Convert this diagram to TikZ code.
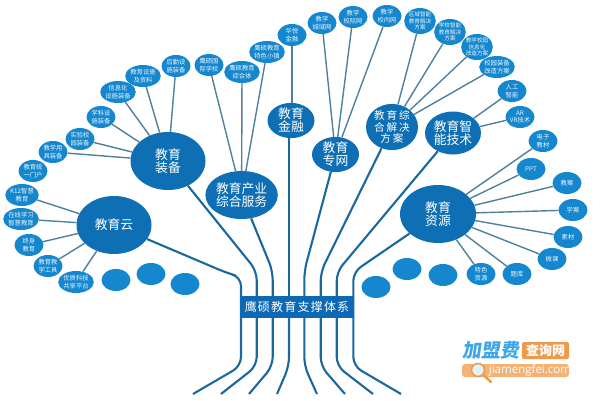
\documentclass[tikz,border=0pt]{standalone}
\usepackage{fontspec}
\setmainfont{Noto Sans CJK SC}
\newfontfamily\latinwm{Open Sans}
\usetikzlibrary{shapes.geometric}
\newcommand\tightlines{\lineskiplimit=-20pt\relax}
\definecolor{bigblue}{HTML}{0F6FB5}
\definecolor{smallblue}{HTML}{1587CF}
\definecolor{leafline}{HTML}{4F809F}
\definecolor{trunkblue}{HTML}{1A689F}
\definecolor{boxblue}{HTML}{0D69B3}
\definecolor{wmblue}{HTML}{3FA6EA}
\definecolor{wmorange}{HTML}{EE9A4D}
\definecolor{wmpale}{HTML}{F4B274}
\tikzset{
  x=1pt,y=-1pt,
  bignode/.style={ellipse,fill=bigblue,text=white,inner sep=0pt,align=center,font=\fontsize{12.8}{13}\selectfont\tightlines},
  smallnode/.style={ellipse,fill=smallblue,text=white!92!smallblue,inner sep=0pt,align=center,minimum width=29pt,minimum height=22pt,font=\fontsize{6.3}{7.7}\selectfont\tightlines},
  tinynode/.style={smallnode,font=\fontsize{5.6}{6.6}\selectfont\tightlines},
  blanknode/.style={smallnode},
  leaf/.style={draw=leafline,line width=1.4pt},
  trunk/.style={draw=trunkblue,line width=2.1pt,rounded corners=9pt},
}
\begin{document}
\begin{tikzpicture}
\useasboundingbox (0,0) rectangle (600,400);
\fill[white] (0,0) rectangle (600,400);
% small nodes: cloud
\node[smallnode] (a1) at (22,195) {K12智慧\\教育};
\node[smallnode] (a2) at (21,219) {在线学习\\智慧教育};
\node[smallnode] (a3) at (29,245) {终身\\教育};
\node[smallnode] (a4) at (48,266) {教育教\\学工具};
\node[smallnode] (a5) at (76,282) {优质科技\\共享平台};
\node[smallnode] (a0) at (33,171) {教育统\\一门户};
\node[blanknode] (n1) at (116,280) {};
\node[blanknode] (n2) at (151,274) {};
\node[blanknode] (n3) at (185,284) {};
% equipment
\node[smallnode] (b1) at (53,152) {教学用\\具装备};
\node[smallnode] (b2) at (80,139) {实验校\\园装备};
\node[smallnode] (b3) at (101,117) {学科设\\施装备};
\node[smallnode] (b4) at (118,92) {信息化\\设施装备};
\node[smallnode] (b5) at (143,76) {教育设施\\及资料};
\node[smallnode] (b6) at (176,66) {后勤设\\施装备};
% services
\node[smallnode] (c1) at (209,65) {鹰硕国\\际学校};
\node[smallnode] (c2) at (242,72) {鹰硕教育\\综合体};
\node[smallnode] (c3) at (267,52) {鹰硕教育\\特色小镇};
\node[smallnode] (d1) at (292,35) {华悦\\金融};
% network
\node[smallnode] (e1) at (322,23) {教学\\城域网};
\node[smallnode] (e2) at (353,17) {教学\\校际网};
\node[smallnode] (e3) at (387,16) {教学\\校内网};
% solutions
\node[tinynode] (f1) at (420,21) {区域智能\\教育解决\\方案};
\node[tinynode] (f2) at (450,32) {学校智能\\教育解决\\方案};
\node[tinynode] (f3) at (477,47) {教学校园\\信息化\\改造方案};
\node[smallnode] (f4) at (497,67) {校园装备\\改造方案};
% intelligent
\node[smallnode] (g1) at (512,91) {人工\\智能};
\node[smallnode] (g2) at (520,117) {AR\\VR技术};
% resources
\node[smallnode] (h1) at (543,141) {电子\\教材};
\node[smallnode] (h2) at (531,169) {PPT};
\node[smallnode] (h3) at (567,183) {教案};
\node[smallnode] (h4) at (573,210) {学案};
\node[smallnode] (h5) at (568,237) {素材};
\node[smallnode] (h6) at (552,259) {微课};
\node[smallnode] (h7) at (517,274) {题库};
\node[smallnode] (h8) at (481,274) {特色\\资源};
\node[blanknode] (n4) at (376,287) {};
\node[blanknode] (n5) at (407,269) {};
\node[blanknode] (n6) at (443,275) {};
% big nodes
\node[bignode,minimum width=75pt,minimum height=58pt] (yun) at (114,225) {教育云};
\node[bignode,minimum width=75pt,minimum height=58pt] (zhuangbei) at (168,161) {教育\\装备};
\node[bignode,minimum width=64pt,minimum height=48pt] (chanye) at (241.6,195) {教育产业\\综合服务};
\node[bignode,minimum width=47pt,minimum height=35pt] (jinrong) at (291,120.5) {教育\\金融};
\node[bignode,minimum width=47pt,minimum height=34pt] (zhuanwang) at (335.5,154.5) {教育\\专网};
\node[bignode,minimum width=52pt,minimum height=40pt,font=\fontsize{10.6}{11.4}\selectfont\addfontfeatures{LetterSpace=18}\tightlines] (jiejue) at (392,127) {教育综\\合解决\\方案};
\node[bignode,minimum width=56pt,minimum height=43pt] (zhineng) at (453,133) {教育智\\能技术};
\node[bignode,minimum width=76pt,minimum height=58pt] (ziyuan) at (438,214) {教育\\资源};
% leaf connectors
\foreach \s in {a1,a2,a3,a4,a5} \draw[leaf] (\s) -- (yun);
\foreach \s in {b1,b2,b3,b4,b5,b6} \draw[leaf] (\s) -- (zhuangbei);
\foreach \s in {c1,c2,c3} \draw[leaf] (\s) -- (chanye);
\draw[leaf] (d1) -- (d1 |- jinrong.north);
\foreach \s in {e1,e2,e3} \draw[leaf] (\s) -- (zhuanwang);
\foreach \s in {f1,f2,f3,f4} \draw[leaf] (\s) -- (jiejue);
\foreach \s in {g1,g2} \draw[leaf] (\s) -- (zhineng);
\foreach \s in {h1,h2,h3,h4,h5,h6,h7,h8} \draw[leaf] (\s) -- (ziyuan);
% trunk coordinates
\coordinate (t1) at (241,296); \coordinate (t2) at (256.7,296); \coordinate (t3) at (272.7,296); \coordinate (t4) at (289,296);
\coordinate (t5) at (304.3,296); \coordinate (t6) at (320.7,296); \coordinate (t7) at (336.7,296); \coordinate (t8) at (353.3,296);
\coordinate (k1) at (241,277); \coordinate (k2) at (256.7,271); \coordinate (k3) at (272.7,271);
\coordinate (k5) at (304.3,271); \coordinate (k6) at (320.7,272); \coordinate (k7) at (336.7,272); \coordinate (k8) at (353.3,272);
\coordinate (e1x) at (193,394); \coordinate (e2x) at (221,394); \coordinate (e3x) at (249,394); \coordinate (e4x) at (277,394);
\coordinate (e5x) at (317,394); \coordinate (e6x) at (345,394); \coordinate (e7x) at (373,394); \coordinate (e8x) at (401,394);
\coordinate (m1) at (241,366); \coordinate (m2) at (256.7,366); \coordinate (m3) at (272.7,366); \coordinate (m4) at (289,366);
\coordinate (m5) at (304.3,366); \coordinate (m6) at (320.7,366); \coordinate (m7) at (336.7,366); \coordinate (m8) at (353.3,366);
\coordinate (yk) at (227,273);
% upper trunk
\draw[trunk] (t1) -- (k1) -- (yk) -- (yun);
\draw[trunk] (t2) -- (k2) -- (zhuangbei);
\draw[trunk] (t3) -- (k3) -- (chanye);
\draw[trunk] (t4) -- (t4 |- jinrong.south);
\draw[trunk] (t5) -- (k5) -- (zhuanwang);
\draw[trunk] (t6) -- (k6) -- (jiejue);
\draw[trunk] (t7) -- (k7) -- (zhineng);
\draw[trunk] (t8) -- (k8) -- (ziyuan);
% lower trunk
\foreach \i in {1,...,8} \draw[trunk] (t\i) -- (m\i) -- (e\i x);
% central box
\node[fill=boxblue,text=white,minimum width=114pt,minimum height=22pt,inner sep=0pt,font=\fontsize{12}{13}\selectfont\addfontfeatures{LetterSpace=10}] (main) at (297,307) {鹰硕教育支撑体系};
% watermark
\node[inner sep=0pt,text=wmblue,font=\fontsize{19}{20}\selectfont\bfseries,xslant=0.15] (wm1) at (492,350) {加盟费};
\node[fill=wmorange,rounded corners=2pt,text=white,minimum width=47pt,minimum height=17pt,inner sep=0pt,font=\fontsize{13}{14}\selectfont\bfseries] (wm2) at (545.5,350.5) {查询网};
\node[fill=wmpale,rounded corners=3pt,minimum width=107pt,minimum height=13pt,inner sep=0pt] (wm3) at (515.5,370.5) {};
\node[inner sep=0pt,text=white,font=\latinwm\fontsize{11.5}{13}\selectfont] (wm4) at (530,370.5) {jiamengfei.com};
\coordinate (wmh) at (491,382);
\node[circle,draw=wmorange,fill=white!85!wmblue,line width=1.6pt,minimum size=13pt,inner sep=0pt] (wm5) at (478,370) {};
\draw[draw=wmorange,line width=2.4pt,line cap=round] (wm5) -- (wmh);
\end{tikzpicture}
\end{document}
